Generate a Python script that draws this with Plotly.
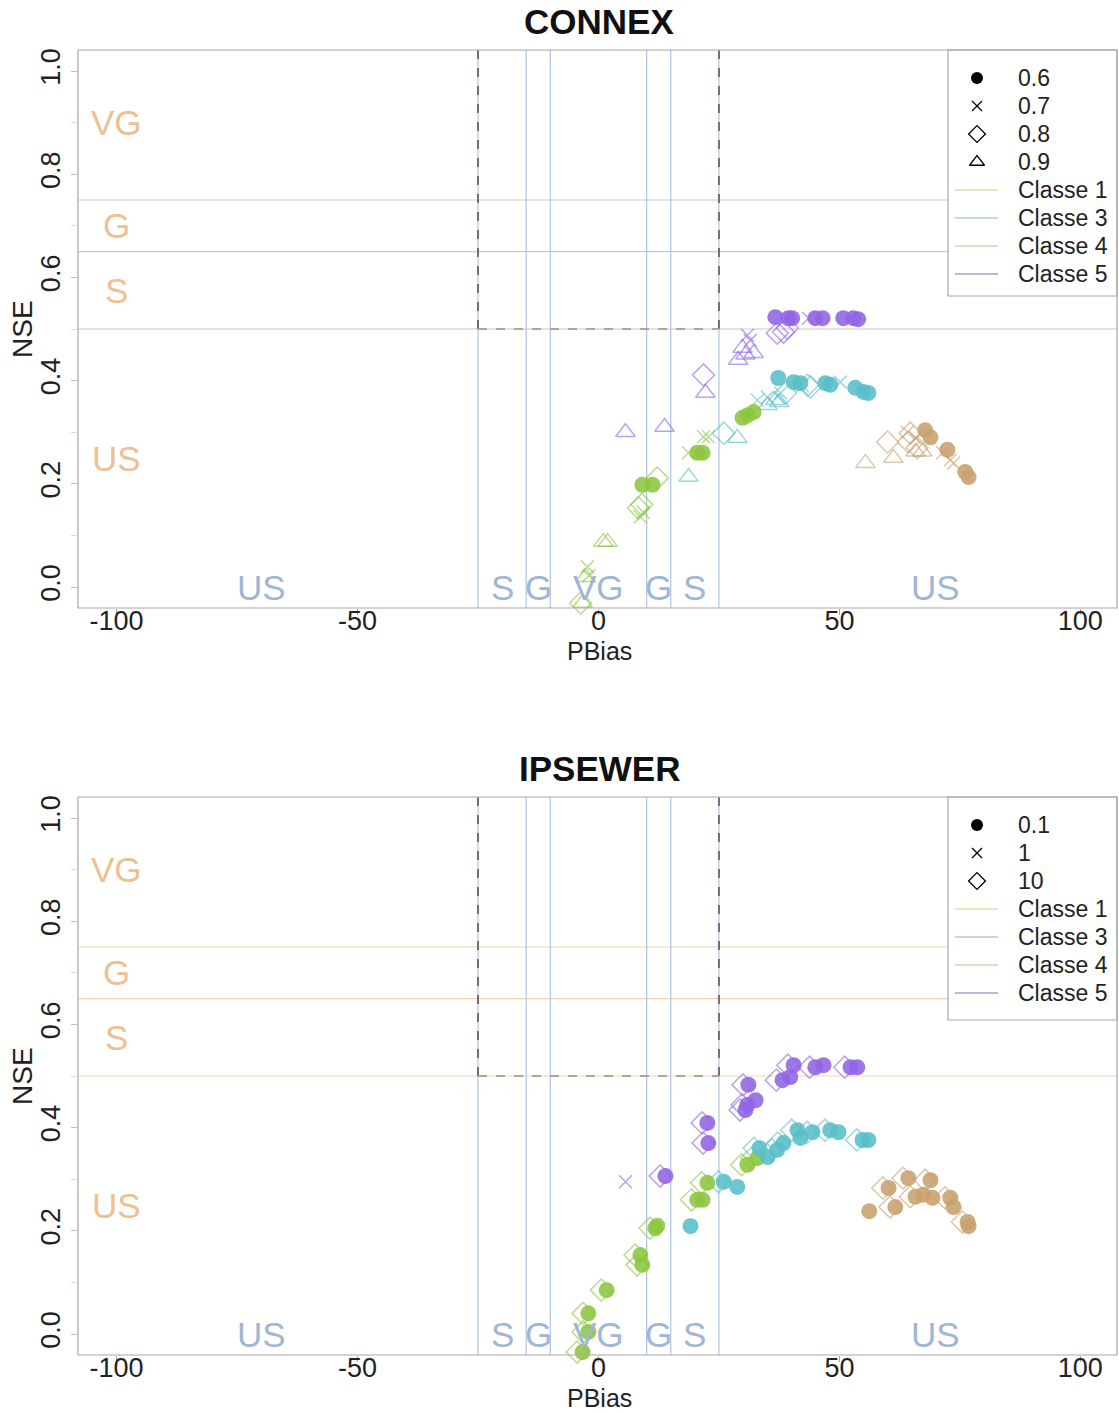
import plotly.graph_objects as go

# ---------------- data ----------------
X_TICKS = [-100, -50, 0, 50, 100]
X_TICK_LABELS = ["-100", "-50", "0", "50", "100"]
Y_TICKS = [0.0, 0.2, 0.4, 0.6, 0.8, 1.0]
Y_TICK_LABELS = ["0.0", "0.2", "0.4", "0.6", "0.8", "1.0"]
NSE_LIMITS = [0.5, 0.65, 0.75]
PBIAS_LIMITS = [-25, -15, -10, 10, 15, 25]
NSE_ZONES = ["US", "S", "G", "VG"]
NSE_ZONE_Y = [0.25, 0.575, 0.70, 0.90]
PBIAS_ZONES = ["US", "S", "G", "VG", "G", "S", "US"]
PBIAS_ZONE_X = [-70, -20, -12.5, 0, 12.5, 20, 70]

CLASSES = ["Classe 1", "Classe 3", "Classe 4", "Classe 5"]

CONNEX_PARAMS = ["0.6", "0.7", "0.8", "0.9"]
IPSEWER_PARAMS = ["0.1", "1", "10"]

# CONNEX
CONNEX_C1_PBIAS = [9.1, 11.2, 20.5, 21.6, 29.9, 31.0, 32.2,
                   -2.3, -2.0, 8.7, 9.3, 18.7, 21.8, 22.8,
                   -3.7, 8.3, 9.0, 12.2,
                   -3.3, -2.7, 1.0, 1.9]
CONNEX_C1_NSE = [0.198, 0.198, 0.26, 0.26, 0.328, 0.333, 0.339,
                 0.039, 0.022, 0.136, 0.145, 0.26, 0.291, 0.291,
                 -0.031, 0.153, 0.16, 0.211,
                 -0.031, 0.019, 0.087, 0.087]
CONNEX_C1_PAR = ["0.6"] * 7 + ["0.7"] * 7 + ["0.8"] * 4 + ["0.9"] * 4

CONNEX_C3_PBIAS = [37.3, 40.5, 41.9, 47.1, 48.1, 53.3, 55.0, 56.0,
                   33.0, 35.1, 37.8, 42.3, 50.2,
                   26.0, 38.8, 43.4, 44.0,
                   18.7, 28.8, 35.1, 36.7, 37.5]
CONNEX_C3_NSE = [0.405, 0.397, 0.395, 0.395, 0.392, 0.386, 0.378, 0.376,
                 0.362, 0.368, 0.376, 0.39, 0.397,
                 0.298, 0.376, 0.391, 0.388,
                 0.213, 0.289, 0.352, 0.362, 0.358]
CONNEX_C3_PAR = ["0.6"] * 8 + ["0.7"] * 5 + ["0.8"] * 4 + ["0.9"] * 5

CONNEX_C4_PBIAS = [67.8, 68.9, 72.4, 76.1, 76.8,
                   64.1, 65.8, 71.4, 73.0, 73.7,
                   60.0, 64.3, 64.7, 66.1,
                   55.4, 61.2, 65.8, 67.2]
CONNEX_C4_NSE = [0.304, 0.29, 0.266, 0.223, 0.213,
                 0.30, 0.289, 0.26, 0.246, 0.24,
                 0.281, 0.281, 0.298, 0.27,
                 0.24, 0.25, 0.262, 0.262]
CONNEX_C4_PAR = ["0.6"] * 5 + ["0.7"] * 5 + ["0.8"] * 4 + ["0.9"] * 4

CONNEX_C5_PBIAS = [36.7, 39.4, 40.2, 45.0, 46.5, 50.8, 52.9, 53.9,
                   30.9, 31.5, 43.6,
                   21.8, 37.1, 38.4, 39.2,
                   5.6, 13.7, 22.2, 29.0, 29.9, 30.5, 32.2]
CONNEX_C5_NSE = [0.523, 0.521, 0.521, 0.521, 0.521, 0.521, 0.521, 0.519,
                 0.488, 0.478, 0.521,
                 0.411, 0.492, 0.494, 0.502,
                 0.30, 0.31, 0.376, 0.44, 0.463, 0.45, 0.453]
CONNEX_C5_PAR = ["0.6"] * 8 + ["0.7"] * 3 + ["0.8"] * 4 + ["0.9"] * 7

# IPSEWER
IPSEWER_C1_PBIAS = [-3.3, -2.1, -2.1, 1.7, 8.7, 9.1, 11.8, 12.2, 20.5, 21.6, 22.6, 30.9, 33.0,
                    -4.4, -3.2, -3.2, 0.6, 7.6, 8.0, 10.7, 19.3, 21.4, 29.7, 31.8]
IPSEWER_C1_NSE = [-0.035, 0.004, 0.04, 0.085, 0.153, 0.134, 0.205, 0.21, 0.26, 0.26, 0.293, 0.328, 0.341,
                  -0.035, 0.004, 0.04, 0.085, 0.153, 0.134, 0.205, 0.26, 0.293, 0.328, 0.341]
IPSEWER_C1_PAR = ["0.1"] * 13 + ["10"] * 11

IPSEWER_C3_PBIAS = [26.0, 28.8, 19.1, 33.4, 35.1, 37.1, 38.4, 41.3, 41.9, 44.4, 48.1, 49.8, 54.8, 56.0,
                    24.9, 32.3, 36.0, 37.2, 40.1, 43.3, 47.0, 53.6]
IPSEWER_C3_NSE = [0.295, 0.285, 0.209, 0.36, 0.343, 0.357, 0.37, 0.395, 0.38, 0.391, 0.395, 0.391, 0.376, 0.376,
                  0.295, 0.36, 0.357, 0.37, 0.395, 0.391, 0.395, 0.376]
IPSEWER_C3_PAR = ["0.1"] * 14 + ["10"] * 8

IPSEWER_C4_PBIAS = [56.2, 60.2, 61.6, 64.3, 65.8, 67.4, 68.9, 69.3, 73.0, 73.7, 76.6, 76.8,
                    59.0, 60.5, 63.2, 64.7, 67.8, 71.9, 75.5]
IPSEWER_C4_NSE = [0.238, 0.283, 0.246, 0.302, 0.266, 0.27, 0.298, 0.264, 0.264, 0.246, 0.217, 0.209,
                  0.283, 0.246, 0.302, 0.266, 0.298, 0.264, 0.217]
IPSEWER_C4_PAR = ["0.1"] * 12 + ["10"] * 7

IPSEWER_C5_PBIAS = [22.6, 22.8, 13.9, 31.1, 32.6, 30.9, 30.5, 38.2, 39.8, 40.5, 45.0, 46.7, 52.3, 53.7,
                    5.6,
                    12.8, 21.5, 21.7, 29.4, 29.8, 30.0, 36.9, 39.3, 43.8, 51.1]
IPSEWER_C5_NSE = [0.409, 0.37, 0.306, 0.483, 0.453, 0.444, 0.434, 0.492, 0.498, 0.521, 0.517, 0.521, 0.517, 0.517,
                  0.295,
                  0.306, 0.409, 0.37, 0.434, 0.444, 0.483, 0.492, 0.521, 0.517, 0.517]
IPSEWER_C5_PAR = ["0.1"] * 14 + ["1"] + ["10"] * 10

# ---------------- styling ----------------
W, H = 1119, 1413
L, R = 78, 1117
TOP1, BOT1 = 50, 608
TOP2, BOT2 = 797, 1355
FONT = "Liberation Sans, Arial, sans-serif"

CLASS_RGB = {"Classe 1": (140, 198, 63), "Classe 3": (88, 190, 200),
             "Classe 4": (200, 160, 110), "Classe 5": (145, 100, 228)}
LEGEND_LINE = {"Classe 1": "#d9e3a6", "Classe 3": "#b3cbe6",
               "Classe 4": "#e3cdb6", "Classe 5": "#a79fcb"}
ZONE_NSE_COLOR = "#edc092"
ZONE_PB_COLOR = "#9fb6d6"
VLINE_COLOR = "#aec3e0"


def pxp(xp):
    return (xp - L) / (R - L)


def pyp(yp):
    return (BOT2 - yp) / (BOT2 - TOP1)


def rgba(rgb, a):
    return "rgba(%d,%d,%d,%.2f)" % (rgb[0], rgb[1], rgb[2], a)


def text_ann(x, y, text, size, color, xref="paper", yref="paper", xanchor="center", angle=0):
    return dict(x=x, y=y, xref=xref, yref=yref, text=text, showarrow=False,
                xanchor=xanchor, yanchor="middle", textangle=angle,
                font=dict(family=FONT, size=size, color=color))


SYMBOLS = {"0.6": "circle", "0.1": "circle", "0.7": "x-thin-open", "1": "x-thin-open",
           "0.8": "diamond-open", "10": "diamond-open", "0.9": "triangle-up-open"}

fig = go.Figure()

panels = [
    ("x", "y", CONNEX_PARAMS, [
        ("Classe 1", CONNEX_C1_PBIAS, CONNEX_C1_NSE, CONNEX_C1_PAR),
        ("Classe 3", CONNEX_C3_PBIAS, CONNEX_C3_NSE, CONNEX_C3_PAR),
        ("Classe 4", CONNEX_C4_PBIAS, CONNEX_C4_NSE, CONNEX_C4_PAR),
        ("Classe 5", CONNEX_C5_PBIAS, CONNEX_C5_NSE, CONNEX_C5_PAR)]),
    ("x2", "y2", IPSEWER_PARAMS, [
        ("Classe 1", IPSEWER_C1_PBIAS, IPSEWER_C1_NSE, IPSEWER_C1_PAR),
        ("Classe 3", IPSEWER_C3_PBIAS, IPSEWER_C3_NSE, IPSEWER_C3_PAR),
        ("Classe 4", IPSEWER_C4_PBIAS, IPSEWER_C4_NSE, IPSEWER_C4_PAR),
        ("Classe 5", IPSEWER_C5_PBIAS, IPSEWER_C5_NSE, IPSEWER_C5_PAR)]),
]

for xa, ya, params, series in panels:
    order = [p for p in params if SYMBOLS[p] != "circle"] + [p for p in params if SYMBOLS[p] == "circle"]
    for p in order:
        for cls, xs, ys, ps in series:
            sx = [x for x, q in zip(xs, ps) if q == p]
            sy = [y for y, q in zip(ys, ps) if q == p]
            if not sx:
                continue
            rgb = CLASS_RGB[cls]
            sym = SYMBOLS[p]
            if sym == "circle":
                marker = dict(symbol="circle", size=16, color=rgba(rgb, 0.88), line=dict(width=0))
            elif sym == "x-thin-open":
                marker = dict(symbol=sym, size=13, color=rgba(rgb, 0.6), line=dict(width=1.5, color=rgba(rgb, 0.6)))
            else:
                marker = dict(symbol=sym, size=17, color=rgba(rgb, 0.6), line=dict(width=1.5, color=rgba(rgb, 0.6)))
            fig.add_trace(go.Scatter(x=sx, y=sy, mode="markers", marker=marker, xaxis=xa, yaxis=ya,
                                     showlegend=False, hoverinfo="skip", cliponaxis=False))

shapes = []
annotations = []

for idx, (xa, ya, top, bot, hcol) in enumerate([("x", "y", TOP1, BOT1, "#c9c9c9"),
                                                 ("x2", "y2", TOP2, BOT2, "#f3d4b0")]):
    xdom = xa + " domain"
    ydom = ya + " domain"
    for v in NSE_LIMITS:
        shapes.append(dict(type="line", xref=xdom, yref=ya, x0=0, x1=1, y0=v, y1=v,
                           line=dict(color=hcol, width=1.2), layer="below"))
    for v in PBIAS_LIMITS:
        shapes.append(dict(type="line", xref=xa, yref=ydom, x0=v, x1=v, y0=0, y1=1,
                           line=dict(color=VLINE_COLOR, width=1.2), layer="below"))
    for v in (-25, 25):
        shapes.append(dict(type="line", xref=xa, yref=ya, x0=v, x1=v, y0=0.5, y1=1.04,
                           line=dict(color="#6f6f6f", width=2, dash="dash"), layer="below"))
    shapes.append(dict(type="line", xref=xa, yref=ya, x0=-25, x1=25, y0=0.5, y1=0.5,
                       line=dict(color="#b3a48c", width=2, dash="dash"), layer="below"))
    shapes.append(dict(type="rect", xref=xdom, yref=ydom, x0=0, x1=1, y0=0, y1=1,
                       line=dict(color="#a8a8a8", width=1.2), layer="above"))
    for t, yv in zip(NSE_ZONES, NSE_ZONE_Y):
        annotations.append(text_ann(-100, yv, t, 35, ZONE_NSE_COLOR, xref=xa, yref=ya))
    for t, xv in zip(PBIAS_ZONES, PBIAS_ZONE_X):
        annotations.append(text_ann(xv, 0.0, t, 35, ZONE_PB_COLOR, xref=xa, yref=ya))
    annotations.append(text_ann(pxp(599), pyp(bot + 43), "PBias", 25, "#222"))
    annotations.append(text_ann(pxp(22), pyp((top + bot) / 2), "NSE", 28, "#222", angle=-90))

annotations.append(text_ann(pxp(599), pyp(22), "<b>CONNEX</b>", 35, "#111"))
annotations.append(text_ann(pxp(599), pyp(769), "<b>IPSEWER</b>", 35, "#111"))

# ---------------- legends (drawn in a pixel-coordinate overlay axis) ----------------
legend_specs = [
    (TOP1, 296, CONNEX_PARAMS, 78),
    (TOP2, 1020, IPSEWER_PARAMS, 825),
]
for btop, bbot, params, row0 in legend_specs:
    shapes.append(dict(type="rect", xref="paper", yref="paper", x0=pxp(948), x1=pxp(1117),
                       y0=pyp(bbot), y1=pyp(btop), line=dict(color="#a8a8a8", width=1.2),
                       fillcolor="white", layer="below"))
    row = row0
    for p in params:
        sym = SYMBOLS[p]
        if sym == "circle":
            mk = dict(symbol="circle", size=12, color="black")
        elif sym == "x-thin-open":
            mk = dict(symbol=sym, size=10, line=dict(width=1.3, color="black"), color="black")
        else:
            mk = dict(symbol=sym, size=13, line=dict(width=1.3, color="black"), color="black")
        fig.add_trace(go.Scatter(x=[977], y=[row], mode="markers", marker=mk, xaxis="x3", yaxis="y3",
                                 showlegend=False, hoverinfo="skip", cliponaxis=False))
        annotations.append(text_ann(pxp(1016), pyp(row), p, 23, "#222", xanchor="left"))
        row += 28
    for cls in CLASSES:
        fig.add_trace(go.Scatter(x=[955, 998], y=[row, row], mode="lines",
                                 line=dict(color=LEGEND_LINE[cls], width=1.5), xaxis="x3", yaxis="y3",
                                 showlegend=False, hoverinfo="skip", cliponaxis=False))
        annotations.append(text_ann(pxp(1016), pyp(row), cls, 23, "#222", xanchor="left"))
        row += 28

axis_common = dict(showgrid=False, zeroline=False, showline=False, automargin=False)
xcommon = dict(axis_common, range=[-108.0, 107.6], tickmode="array", tickvals=X_TICKS,
               ticktext=X_TICK_LABELS, ticks="outside", ticklen=6, ticklabelstandoff=-17,
               tickcolor="#a8a8a8", tickfont=dict(family=FONT, size=27, color="#222"))
ycommon = dict(axis_common, range=[-0.0407, 1.0407], tickmode="array", tickvals=Y_TICKS,
               ticktext=Y_TICK_LABELS, ticks="outside", ticklen=6,
               tickcolor="#bdbdbd", tickangle=-90,
               tickfont=dict(family=FONT, size=27, color="#222"),
               minor=dict(tickmode="array", tickvals=[0.1, 0.3, 0.5, 0.7, 0.9], ticks="outside", ticklen=6,
                          tickcolor="#ead8c2", showgrid=False))

fig.update_layout(
    template="none",
    width=W, height=H,
    margin=dict(l=L, r=W - R, t=TOP1, b=H - BOT2, autoexpand=False),
    paper_bgcolor="white", plot_bgcolor="rgba(0,0,0,0)",
    font=dict(family=FONT),
    showlegend=False,
    xaxis=dict(xcommon, domain=[0, 1], anchor="y"),
    yaxis=dict(ycommon, domain=[pyp(BOT1), 1], anchor="x"),
    xaxis2=dict(xcommon, domain=[0, 1], anchor="y2"),
    yaxis2=dict(ycommon, domain=[0, pyp(TOP2)], anchor="x2"),
    xaxis3=dict(domain=[0, 1], range=[L, R], visible=False, anchor="y3", fixedrange=True, automargin=False),
    yaxis3=dict(domain=[0, 1], range=[BOT2, TOP1], visible=False, anchor="x3", fixedrange=True, automargin=False),
    shapes=shapes,
    annotations=annotations,
)

fig.write_html("out.html", config={"displayModeBar": False},
               post_script="document.body.style.margin='0px';document.body.style.padding='0px';")
